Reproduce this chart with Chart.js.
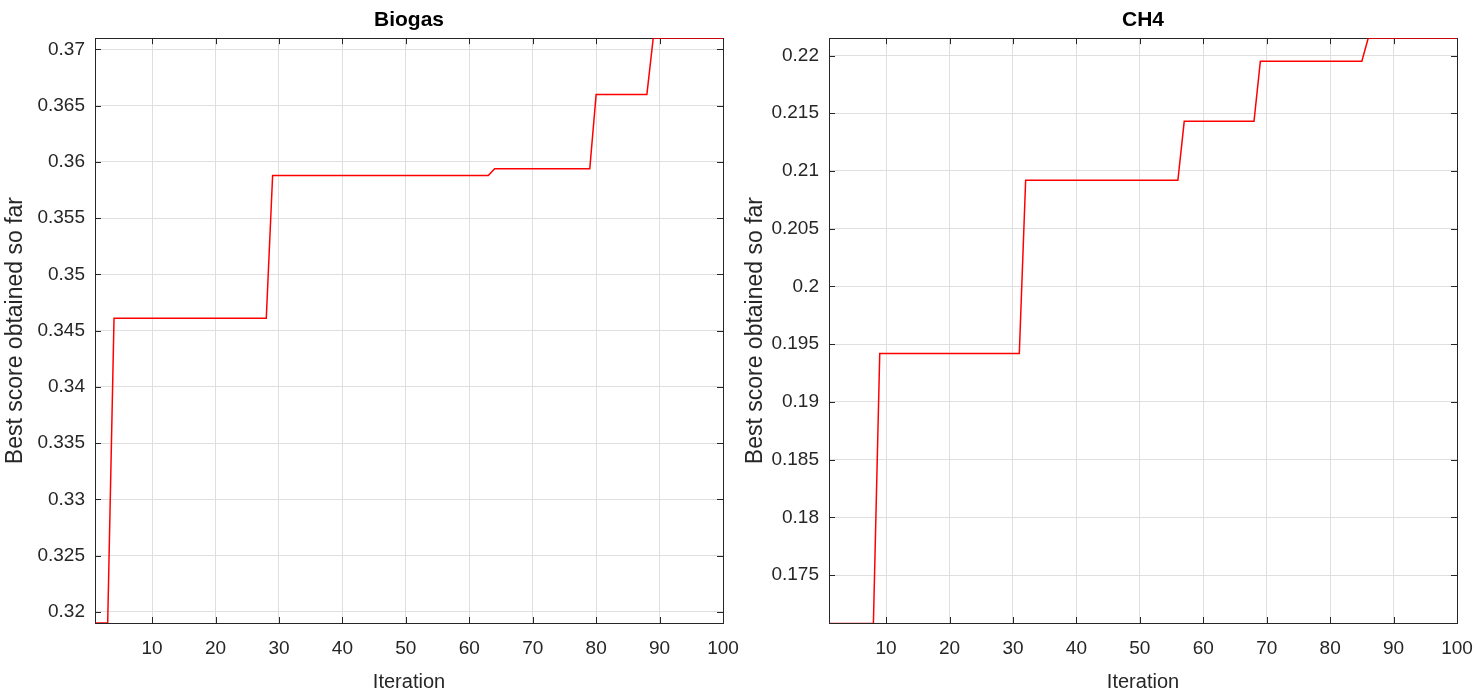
<!DOCTYPE html>
<html>
<head>
<meta charset="utf-8">
<script src="https://cdn.jsdelivr.net/npm/chart.js@4"></script>
<style>
  body { margin: 0; background: #fff; }
  .panel { position: absolute; top: 0; }
</style>
</head>
<body>
<div class="panel" style="left:0px"><canvas id="biogas" width="740" height="699"></canvas></div>
<div class="panel" style="left:740px"><canvas id="ch4" width="743" height="699"></canvas></div>
<script>
// iteration axis
const iterations = Array.from({length: 100}, (_, i) => i + 1)
const xTicks = [10, 20, 30, 40, 50, 60, 70, 80, 90, 100]

// best score per iteration, Biogas
const biogasScores = [
  0.3190, 0.3190, 0.3190,
  0.3461, 0.3461, 0.3461, 0.3461, 0.3461, 0.3461, 0.3461, 0.3461, 0.3461, 0.3461,
  0.3461, 0.3461, 0.3461, 0.3461, 0.3461, 0.3461, 0.3461, 0.3461, 0.3461, 0.3461,
  0.3461, 0.3461, 0.3461, 0.3461, 0.3461,
  0.3588, 0.3588, 0.3588, 0.3588, 0.3588, 0.3588, 0.3588, 0.3588, 0.3588, 0.3588,
  0.3588, 0.3588, 0.3588, 0.3588, 0.3588, 0.3588, 0.3588, 0.3588, 0.3588, 0.3588,
  0.3588, 0.3588, 0.3588, 0.3588, 0.3588, 0.3588, 0.3588, 0.3588, 0.3588, 0.3588,
  0.3588, 0.3588, 0.3588, 0.3588, 0.3588,
  0.3594, 0.3594, 0.3594, 0.3594, 0.3594, 0.3594, 0.3594, 0.3594, 0.3594, 0.3594,
  0.3594, 0.3594, 0.3594, 0.3594, 0.3594, 0.3594,
  0.3660, 0.3660, 0.3660, 0.3660, 0.3660, 0.3660, 0.3660, 0.3660, 0.3660,
  0.3710, 0.3710, 0.3710, 0.3710, 0.3710, 0.3710, 0.3710, 0.3710, 0.3710, 0.3710,
  0.3710, 0.3710
]
const biogasTicks = [0.32, 0.325, 0.33, 0.335, 0.34, 0.345, 0.35, 0.355, 0.36, 0.365, 0.37]

// best score per iteration, CH4
const ch4Scores = [
  0.1708, 0.1708, 0.1708, 0.1708, 0.1708, 0.1708, 0.1708, 0.1708,
  0.1942, 0.1942, 0.1942, 0.1942, 0.1942, 0.1942, 0.1942, 0.1942, 0.1942, 0.1942,
  0.1942, 0.1942, 0.1942, 0.1942, 0.1942, 0.1942, 0.1942, 0.1942, 0.1942, 0.1942,
  0.1942, 0.1942, 0.1942,
  0.2092, 0.2092, 0.2092, 0.2092, 0.2092, 0.2092, 0.2092, 0.2092, 0.2092, 0.2092,
  0.2092, 0.2092, 0.2092, 0.2092, 0.2092, 0.2092, 0.2092, 0.2092, 0.2092, 0.2092,
  0.2092, 0.2092, 0.2092, 0.2092, 0.2092,
  0.2143, 0.2143, 0.2143, 0.2143, 0.2143, 0.2143, 0.2143, 0.2143, 0.2143, 0.2143,
  0.2143, 0.2143,
  0.2195, 0.2195, 0.2195, 0.2195, 0.2195, 0.2195, 0.2195, 0.2195, 0.2195, 0.2195,
  0.2195, 0.2195, 0.2195, 0.2195, 0.2195, 0.2195, 0.2195,
  0.2215, 0.2215, 0.2215, 0.2215, 0.2215, 0.2215, 0.2215, 0.2215, 0.2215, 0.2215,
  0.2215, 0.2215, 0.2215, 0.2215, 0.2215
]
const ch4Ticks = [0.175, 0.18, 0.185, 0.19, 0.195, 0.2, 0.205, 0.21, 0.215, 0.22]

const FONT = '"Liberation Sans", Arial, Helvetica, sans-serif'
const AXIS_COLOR = '#262626'
const GRID_COLOR = '#dfdfdf'

// matlab style box with inward ticks on every side, under the line
const boxPlugin = {
  id: 'matlabBox',
  beforeDatasetsDraw(chart) {
    const ctx = chart.ctx
    const a = chart.chartArea
    const len = 6
    ctx.save()
    ctx.strokeStyle = AXIS_COLOR
    ctx.lineWidth = 1
    ctx.strokeRect(Math.round(a.left) + 0.5, Math.round(a.top) + 0.5,
      Math.round(a.right - a.left), Math.round(a.bottom - a.top))
    ctx.beginPath()
    chart.scales.x.ticks.forEach(function(t) {
      var px = Math.round(chart.scales.x.getPixelForValue(t.value)) + 0.5
      ctx.moveTo(px, a.bottom); ctx.lineTo(px, a.bottom - len)
      ctx.moveTo(px, a.top); ctx.lineTo(px, a.top + len)
    })
    chart.scales.y.ticks.forEach(function(t) {
      var py = Math.round(chart.scales.y.getPixelForValue(t.value)) + 0.5
      ctx.moveTo(a.left, py); ctx.lineTo(a.left + len, py)
      ctx.moveTo(a.right, py); ctx.lineTo(a.right - len, py)
    })
    ctx.stroke()
    ctx.restore()
  }
}

function makeChart(id, title, scores, yTicks, yMin, yMax, yWidth, padRight) {
  return new Chart(document.getElementById(id), {
    type: 'line',
    data: {
      labels: iterations,
      datasets: [{
        data: scores,
        borderColor: '#ff0000',
        borderWidth: 1.5,
        pointRadius: 0,
        tension: 0,
        fill: false
      }]
    },
    options: {
      responsive: false,
      animation: false,
      layout: { padding: { top: 0, right: padRight, bottom: 0, left: 0 } },
      plugins: {
        legend: { display: false },
        tooltip: { enabled: false },
        title: {
          display: true,
          text: title,
          fullSize: false,
          color: '#000',
          font: { family: FONT, size: 21, weight: 'bold' },
          padding: { top: 8, bottom: 5 }
        }
      },
      scales: {
        x: {
          type: 'linear',
          min: 1,
          max: 100,
          afterBuildTicks: function(scale) {
            scale.ticks = xTicks.map(function(v) { return { value: v } })
          },
          afterFit: function(scale) {
            scale.height = 76
            scale.paddingLeft = 0
            scale.paddingRight = 0
          },
          grid: { color: GRID_COLOR, drawTicks: false },
          border: { display: false },
          ticks: {
            color: AXIS_COLOR,
            font: { family: FONT, size: 19 },
            padding: 14,
            maxRotation: 0,
            autoSkip: false
          },
          title: {
            display: true,
            text: 'Iteration',
            color: AXIS_COLOR,
            font: { family: FONT, size: 20 },
            padding: { top: 0, bottom: 5 }
          }
        },
        y: {
          type: 'linear',
          min: yMin,
          max: yMax,
          afterBuildTicks: function(scale) {
            scale.ticks = yTicks.map(function(v) { return { value: v } })
          },
          afterFit: function(scale) {
            scale.width = yWidth
            scale.paddingTop = 0
            scale.paddingBottom = 0
          },
          grid: { color: GRID_COLOR, drawTicks: false },
          border: { display: false },
          ticks: {
            color: AXIS_COLOR,
            font: { family: FONT, size: 19 },
            padding: 10,
            autoSkip: false,
            callback: function(v) { return String(+v.toFixed(3)) }
          },
          title: {
            display: true,
            text: 'Best score obtained so far',
            color: AXIS_COLOR,
            font: { family: FONT, size: 23 },
            padding: { top: 2, bottom: 0 }
          }
        }
      }
    },
    plugins: [boxPlugin]
  })
}

makeChart('biogas', 'Biogas', biogasScores, biogasTicks, 0.3190, 0.3710, 95, 17)
makeChart('ch4', 'CH4', ch4Scores, ch4Ticks, 0.17085, 0.2215, 89, 26)
</script>
</body>
</html>
